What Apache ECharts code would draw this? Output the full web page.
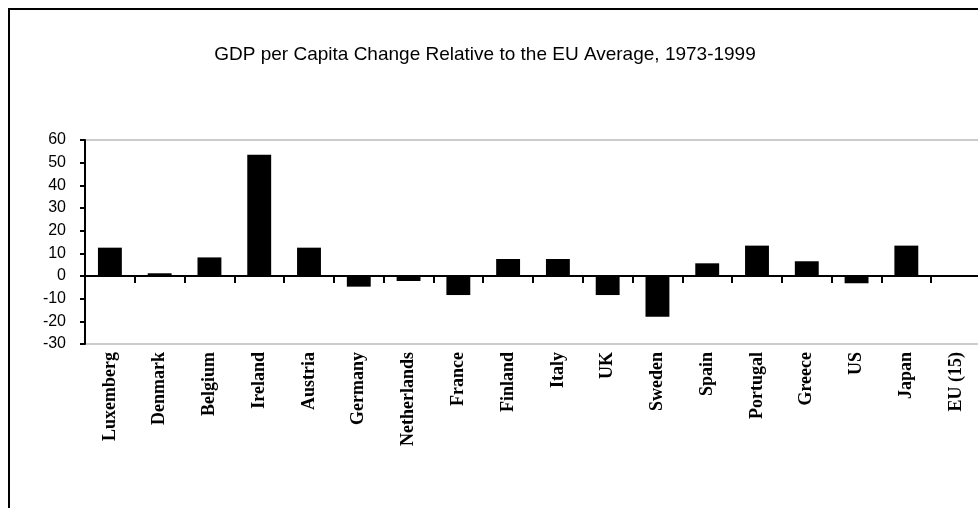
<!DOCTYPE html>
<html>
<head>
<meta charset="utf-8">
<script src="https://cdn.jsdelivr.net/npm/echarts@6/dist/echarts.min.js"></script>
<style>
  html, body { margin: 0; padding: 0; background: #fff; }
  #main { width: 978px; height: 508px; }
</style>
</head>
<body>
<div id="main"></div>
<script>
// countries along the x axis
var countries = ['Luxemberg', 'Denmark', 'Belgium', 'Ireland', 'Austria', 'Germany',
  'Netherlands', 'France', 'Finland', 'Italy', 'UK', 'Sweden', 'Spain', 'Portugal',
  'Greece', 'US', 'Japan', 'EU (15)']
// change in GDP per capita relative to EU average (percentage points)
var change = [12.5, 1.2, 8.2, 53.5, 12.5, -4.7, -2.2, -8.4, 7.5, 7.5, -8.4, -18,
  5.6, 13.4, 6.5, -3.2, 13.4, 0]
var yMin = -30
var yMax = 60
var yStep = 10

var myChart = echarts.init(document.getElementById('main'))

var option = {
  animation: false,
  backgroundColor: '#fff',
  title: {
    text: 'GDP per Capita Change Relative to the EU Average, 1973-1999',
    left: 480,
    textAlign: 'center',
    top: 40,
    textStyle: {
      fontFamily: 'Liberation Sans',
      fontSize: 19,
      fontWeight: 'normal',
      color: '#000'
    }
  },
  graphic: [
    {
      type: 'rect',
      shape: { x: 9, y: 9, width: 1100, height: 700 },
      style: { fill: 'none', stroke: '#000', lineWidth: 2 },
      silent: true
    }
  ],
  grid: {
    left: 85,
    right: -3,
    top: 140,
    bottom: 164,
    outerBoundsMode: 'none',
    containLabel: false,
    show: true,
    borderColor: '#999',
    borderWidth: 1
  },
  xAxis: {
    type: 'category',
    data: countries,
    axisLine: {
      onZero: true,
      lineStyle: { color: '#000', width: 2 }
    },
    axisTick: {
      show: true,
      length: 7,
      lineStyle: { color: '#000', width: 2 }
    },
    axisLabel: {
      rotate: 90,
      margin: 8,
      interval: 0,
      fontFamily: 'Liberation Serif',
      fontWeight: 'bold',
      fontSize: 18,
      color: '#000'
    },
    splitLine: { show: false }
  },
  yAxis: {
    type: 'value',
    min: yMin,
    max: yMax,
    interval: yStep,
    axisLine: {
      show: true,
      lineStyle: { color: '#000', width: 2 }
    },
    axisTick: {
      show: true,
      length: 5,
      lineStyle: { color: '#000', width: 2 }
    },
    axisLabel: {
      margin: 19,
      fontFamily: 'Liberation Sans',
      fontSize: 16,
      color: '#000'
    },
    splitLine: { show: false }
  },
  series: [
    {
      type: 'bar',
      data: change,
      barWidth: '48%',
      itemStyle: { color: '#000' }
    }
  ]
}

option && myChart.setOption(option)
</script>
</body>
</html>
